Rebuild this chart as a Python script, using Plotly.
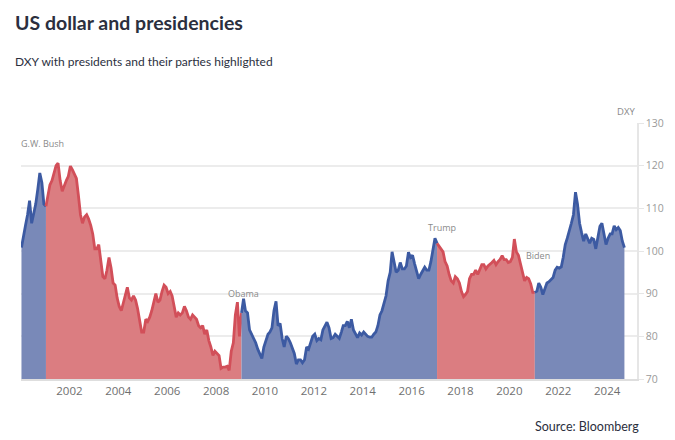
import pandas as pd
import plotly.graph_objects as go

# Monthly DXY readings, one list per year
dxy_2000 = [100.8, 104.0, 106.0, 108.5, 111.8, 106.5, 108.5, 111.0, 114.5, 118.3, 116.0, 111.0]
dxy_2001 = [110.5, 113.0, 115.5, 116.5, 118.5, 120.0, 120.6, 116.5, 114.0, 115.5, 116.5, 117.5]
dxy_2002 = [119.9, 119.0, 118.0, 117.0, 113.0, 108.5, 106.5, 108.0, 108.5, 107.5, 106.0, 104.0]
dxy_2003 = [100.5, 100.5, 101.5, 97.5, 94.0, 93.5, 95.5, 98.5, 96.0, 92.5, 92.0, 89.0]
dxy_2004 = [87.0, 86.0, 88.0, 89.5, 91.5, 89.0, 88.5, 89.5, 88.5, 86.5, 83.5, 81.0]
dxy_2005 = [81.0, 84.0, 83.5, 84.5, 86.0, 88.5, 90.0, 88.0, 88.5, 90.5, 92.0, 91.5]
dxy_2006 = [90.0, 90.5, 89.5, 87.0, 84.5, 85.5, 85.0, 85.5, 87.0, 86.0, 84.5, 84.0]
dxy_2007 = [85.0, 84.5, 84.0, 82.5, 82.0, 82.5, 80.5, 81.5, 79.0, 77.5, 75.5, 76.5]
dxy_2008 = [76.0, 75.5, 72.5, 72.8, 72.8, 73.0, 72.0, 76.5, 78.5, 85.0, 88.0, 80.0]
dxy_2009 = [85.5, 88.8, 86.0, 85.5, 81.5, 80.5, 79.5, 78.5, 77.0, 76.0, 74.8, 77.5]
dxy_2010 = [79.0, 80.5, 81.0, 82.0, 86.0, 88.2, 82.5, 83.0, 79.5, 77.5, 80.0, 79.5]
dxy_2011 = [78.5, 77.0, 76.0, 73.5, 74.5, 74.5, 73.8, 74.5, 77.5, 77.0, 78.5, 80.0]
dxy_2012 = [80.5, 79.0, 79.5, 79.2, 81.5, 82.5, 83.3, 82.0, 79.5, 79.7, 80.5, 80.0]
dxy_2013 = [79.5, 81.0, 82.5, 82.5, 83.5, 82.0, 84.0, 81.5, 80.5, 79.7, 80.8, 80.3]
dxy_2014 = [81.0, 80.5, 80.0, 79.8, 79.8, 80.5, 81.0, 82.5, 85.0, 86.0, 87.8, 89.5]
dxy_2015 = [93.0, 95.0, 99.8, 97.0, 95.0, 95.5, 97.3, 95.8, 95.8, 96.5, 99.7, 98.5]
dxy_2016 = [99.0, 97.0, 95.5, 93.5, 94.5, 95.5, 96.2, 95.5, 95.5, 97.5, 100.5, 103.0]
dxy_2017 = [101.8, 101.0, 100.5, 99.8, 97.5, 96.5, 94.5, 93.0, 92.5, 94.0, 93.5, 92.5]
dxy_2018 = [90.5, 89.3, 89.8, 90.5, 93.5, 94.5, 94.5, 95.5, 94.5, 95.8, 96.8, 96.8]
dxy_2019 = [95.8, 96.5, 96.8, 97.3, 97.8, 96.8, 97.5, 98.0, 98.9, 98.0, 98.0, 97.3]
dxy_2020 = [97.5, 98.5, 102.8, 99.8, 99.0, 96.8, 94.5, 93.0, 93.8, 93.5, 92.3, 90.3]
dxy_2021 = [90.3, 90.6, 92.5, 91.5, 89.8, 91.0, 92.5, 92.8, 93.3, 93.8, 95.5, 96.2]
dxy_2022 = [96.0, 96.3, 98.5, 101.5, 103.0, 104.5, 106.5, 108.5, 113.8, 111.0, 106.5, 104.3]
dxy_2023 = [102.3, 104.0, 103.0, 101.8, 103.0, 102.7, 100.5, 103.3, 105.8, 106.5, 104.0, 101.5]
dxy_2024 = [103.0, 104.0, 104.0, 105.9, 105.0, 105.5, 104.8, 102.3, 100.8]

presidents = ["Clinton", "G.W. Bush", "Obama", "Trump", "Biden"]
parties = ["D", "R", "D", "R", "D"]
term_starts = ["2000-01-01", "2001-01-20", "2009-01-20", "2017-01-20", "2021-01-20"]
label_names = ["G.W. Bush", "Obama", "Trump", "Biden"]
label_dates = ["2000-11-20", "2009-02-15", "2017-04-01", "2021-03-10"]
label_values = [125.3, 90.1, 105.4, 99.0]

y_ticks = [70, 80, 90, 100, 110, 120, 130]

values = (dxy_2000 + dxy_2001 + dxy_2002 + dxy_2003 + dxy_2004 + dxy_2005 + dxy_2006
          + dxy_2007 + dxy_2008 + dxy_2009 + dxy_2010 + dxy_2011 + dxy_2012 + dxy_2013
          + dxy_2014 + dxy_2015 + dxy_2016 + dxy_2017 + dxy_2018 + dxy_2019 + dxy_2020
          + dxy_2021 + dxy_2022 + dxy_2023 + dxy_2024)
dates = pd.date_range("2000-01-01", periods=len(values), freq="MS") + pd.Timedelta(days=14)
s = pd.Series(values, index=dates)

colors = {
    "D": ("#3c5aa2", "rgb(121,137,184)"),
    "R": ("#d24f59", "rgb(219,125,129)"),
}

fig = go.Figure()
starts = [pd.Timestamp(t) for t in term_starts] + [pd.Timestamp("2100-01-01")]
for i, name in enumerate(presidents):
    a, b = starts[i], starts[i + 1]
    i0 = max(0, (s.index <= a).sum() - 1)
    i1 = (s.index <= b).sum() - 1
    seg = s.iloc[i0:i1 + 1]
    line_c, fill_c = colors[parties[i]]
    fig.add_trace(go.Scatter(
        x=seg.index, y=seg.values, mode="lines", name=name,
        line=dict(color=line_c, width=2.8, shape="linear"),
        fill="tozeroy", fillcolor=fill_c, showlegend=False, hoverinfo="x+y",
    ))

ann = []
for n, d, v in zip(label_names, label_dates, label_values):
    ann.append(dict(x=d, y=v, xref="x", yref="y", text=n, showarrow=False,
                    font=dict(family="Open Sans", size=9, color="#8a8a8a")))

def px(xp):
    return (xp - 21) / 616.0

def py(yp):
    return (379 - yp) / 256.0

ann += [
    dict(x=px(13), y=py(22), xref="paper", yref="paper", xanchor="left", yanchor="middle",
         text="<b>US dollar and presidencies</b>", showarrow=False,
         font=dict(family="Lato", size=19.5, color="#2b2f3e")),
    dict(x=px(13), y=py(61), xref="paper", yref="paper", xanchor="left", yanchor="middle",
         text="DXY with presidents and their parties highlighted", showarrow=False,
         font=dict(family="Lato", size=12, color="#2b2f3e")),
    dict(x=px(641), y=py(426), xref="paper", yref="paper", xanchor="right", yanchor="middle",
         text="Source: Bloomberg", showarrow=False,
         font=dict(family="Lato", size=12.5, color="#2b2f3e")),
    dict(x=1.0, y=py(111), xref="paper", yref="paper", xanchor="right", yanchor="middle",
         text="DXY", showarrow=False,
         font=dict(family="Open Sans", size=9.5, color="#8a8a8a")),
]

# The page body adds an 8px offset, so the figure is drawn 8px smaller
fig.update_layout(
    width=667, height=432,
    margin=dict(l=13, r=38, t=115, b=61),
    paper_bgcolor="white", plot_bgcolor="white",
    annotations=ann,
    showlegend=False,
    xaxis=dict(
        range=["2000-01-08", "2025-03-22"], type="date",
        tick0="2000-01-01", dtick="M24", tickformat="%Y",
        showgrid=False, showline=True, linecolor="#dedede", linewidth=1.5,
        ticks="", tickfont=dict(family="Open Sans", size=11.5, color="#6f6f6f"),
        zeroline=False,
    ),
    yaxis=dict(
        range=[70, 130], side="right", tickvals=y_ticks,
        showgrid=True, gridcolor="#ececec", gridwidth=1.5,
        showline=True, linecolor="#e6e6e6", linewidth=1.5,
        ticks="outside", ticklen=5, tickcolor="#e6e6e6",
        tickfont=dict(family="Open Sans", size=10.5, color="#9a9a9a"),
        zeroline=False,
    ),
)

fig.write_html("out.html")
